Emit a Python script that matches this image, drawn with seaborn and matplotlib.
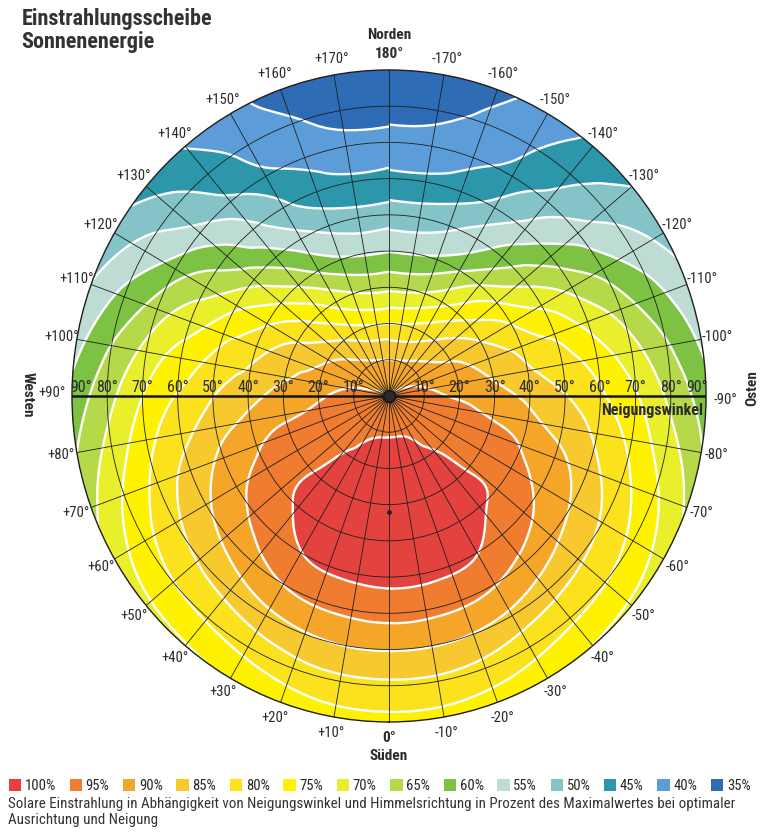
import numpy as np
import pandas as pd
import matplotlib
import matplotlib.pyplot as plt
import matplotlib.tri as mtri
from matplotlib.patches import Patch
import seaborn as sns

# tilt angle (Neigungswinkel) rings, 0 = horizontal, 90 = vertical
tilts = [0, 10, 20, 30, 40, 50, 60, 70, 80, 90]
# azimuth: 0 = south, + = west, - = east
azimuths = [-180, -150, -120, -90, -75, -60, -45, -30, -15, 0,
            15, 30, 45, 60, 75, 90, 120, 150, 180]

# irradiation in % of the optimum
north = [93, 87.5, 77.5, 66.5, 57.3, 50, 43.7, 39.4, 36, 33.5]
e150 = [93, 88.4, 80.4, 71.0, 62.2, 55.0, 49.0, 44.6, 41.8, 39.6]
e120 = [93, 90.9, 87.2, 82.6, 77.3, 71.7, 66.0, 60.6, 55.4, 51.0]
east = [93, 93.6, 92.0, 89.3, 86.1, 82.7, 78.4, 73.0, 66.3, 59.5]
e75 = [93, 94.1, 94.0, 93.1, 90.8, 87.4, 83.0, 77.8, 71.6, 64.8]
e60 = [93, 94.6, 95.2, 95.6, 94.5, 91.5, 87.1, 81.9, 76.2, 70.2]
e45 = [93, 95.7, 97.1, 97.8, 97.4, 94.7, 89.9, 84.1, 78.1, 72.0]
e30 = [93, 96.8, 98.3, 99.4, 99.0, 97.6, 92.8, 86.2, 79.6, 73.5]
e15 = [93, 97.1, 99.2, 100, 99.6, 98.4, 93.8, 87.6, 81.3, 75.7]
south = [93, 97.1, 99.3, 100, 99.6, 98.6, 94.0, 87.8, 81.5, 76.0]
w15 = [93, 97.0, 99.1, 99.9, 99.4, 98.2, 93.6, 87.4, 81.1, 75.4]
w30 = [93, 96.6, 98.1, 99.2, 98.8, 97.4, 92.6, 86.0, 79.3, 73.2]
w45 = [93, 95.5, 96.9, 97.6, 97.2, 94.4, 89.6, 83.8, 77.8, 71.7]
w60 = [93, 94.5, 95.0, 95.3, 94.2, 91.2, 86.8, 81.5, 75.8, 69.7]
w75 = [93, 94.0, 93.8, 92.8, 90.5, 87.1, 82.6, 77.4, 71.0, 64.3]
west = [93, 93.5, 91.8, 89.0, 85.8, 82.3, 77.8, 72.5, 65.8, 59.0]
w120 = [93, 90.8, 87.0, 82.3, 77.0, 71.3, 65.5, 60.0, 54.6, 49.5]
w150 = [93, 88.3, 80.2, 70.7, 61.8, 54.5, 48.5, 44.0, 41.0, 38.8]

columns = [north, e150, e120, east, e75, e60, e45, e30, e15, south,
           w15, w30, w45, w60, w75, west, w120, w150, north]
df = pd.DataFrame(np.array(columns).T, index=tilts, columns=azimuths)

band_labels = ['100%', '95%', '90%', '85%', '80%', '75%', '70%',
               '65%', '60%', '55%', '50%', '45%', '40%', '35%']
band_hex = ['#e4423f', '#ef7c2f', '#f5a628', '#f8c92e', '#fbe21c', '#fff200', '#e9ef2a',
            '#b6d94a', '#7dc243', '#bddcd4', '#84c3c8', '#2c97ab', '#5c9dd9', '#2e6cb6']
levels = [20, 37.5, 42.5, 47.5, 52.5, 57.5, 62.5, 67.5, 72.5, 77.5, 82.5, 87.5, 92.5, 97.5, 110]

sns.set_theme(style='white')
plt.rcParams['font.family'] = ['Roboto Condensed', 'DejaVu Sans']
palette = sns.color_palette(band_hex)
fill_colors = list(reversed(palette))  # low -> high

fig = plt.figure(figsize=(7.65, 8.33), dpi=100)
ax = fig.add_axes([0.0941, 0.1333, 0.8288, 0.7827], projection='polar')
ax.set_aspect('auto')
ax.set_theta_zero_location('S')
ax.set_theta_direction(-1)

# wrap one column on each side so the north meridian is smooth, then let
# matplotlib's cubic refiner smooth the read values
wrap = pd.concat([df[[150]].rename(columns={150: -210}), df, df[[-150]].rename(columns={-150: 210})], axis=1)
TH, RR = np.meshgrid(wrap.columns.values.astype(float), wrap.index.values.astype(float))
z = wrap.values.ravel()
triang = mtri.Triangulation(TH.ravel(), RR.ravel())
interp = mtri.CubicTriInterpolator(triang, z, kind='min_E')
tri_f, z_f = mtri.UniformTriRefiner(triang).refine_field(z, triinterpolator=interp, subdiv=4)
tri_p = mtri.Triangulation(np.deg2rad(tri_f.x), tri_f.y, tri_f.triangles)
outside = (np.abs(tri_f.x[tri_f.triangles]) > 180.001).any(axis=1)
tri_p.set_mask(outside)

ax.tricontourf(tri_p, z_f, levels=levels, colors=fill_colors, zorder=1)
ax.tricontour(tri_p, z_f, levels=levels[1:-1], colors='white', linewidths=1.7, zorder=2)

ax.set_ylim(0, 90)
ax.set_xticks(np.deg2rad(np.arange(0, 360, 10)))
ax.set_xticklabels([])
ax.set_yticks(range(10, 90, 10))
ax.set_yticklabels([])
ax.set_axisbelow(False)
ax.grid(True, color='#1e1e1e', linewidth=0.6)
ax.spines['polar'].set_color('#1e1e1e')
ax.spines['polar'].set_linewidth(1.0)

# tilt axis through the centre
for side in (np.pi / 2, -np.pi / 2):
    ax.plot([side, side], [0, 90], color='#151515', linewidth=1.8, zorder=4)
ax.plot(0, 0, 'o', ms=8.5, color='#2a2a2a', mec='#111', zorder=5)
ax.plot(0, 32, 'o', ms=2.5, color='#222', zorder=5)

txt = '#2b2b2b'
for t in tilts[1:]:
    pos = 87.5 if t == 90 else t
    for side in (np.pi / 2, -np.pi / 2):
        ax.annotate(f'{t}°', xy=(side, pos), xytext=(0, 1), textcoords='offset points',
                    ha='center', va='bottom', fontsize=11.5, color=txt, zorder=6)

for a in range(10, 180, 10):
    if a == 90:
        continue
    ax.text(np.deg2rad(a), 94.5, f'+{a}°', ha='center', va='center', fontsize=10.5, color=txt)
    ax.text(np.deg2rad(-a), 94.5, f'-{a}°', ha='center', va='center', fontsize=10.5, color=txt)
ax.text(0, 94.4, '0°', ha='center', va='center', fontsize=11, weight='bold', color=txt)
ax.text(np.pi, 94.4, '180°', ha='center', va='center', fontsize=11, weight='bold', color=txt)

fig.text(52 / 765, 1 - 393 / 833, '+90°', ha='center', va='center', fontsize=10.5, color=txt)
fig.text(725 / 765, 1 - 400 / 833, '-90°', ha='center', va='center', fontsize=10.5, color=txt)
fig.text(389 / 765, 1 - 35 / 833, 'Norden', ha='center', va='center', fontsize=11, weight='bold', color=txt)
fig.text(389 / 765, 1 - 756 / 833, 'Süden', ha='center', va='center', fontsize=11, weight='bold', color=txt)
fig.text(28 / 765, 1 - 395 / 833, 'Westen', ha='center', va='center', rotation=-90,
         fontsize=11, weight='bold', color=txt)
fig.text(752 / 765, 1 - 388 / 833, 'Osten', ha='center', va='center', rotation=90,
         fontsize=11, weight='bold', color=txt)
fig.text(703 / 765, 1 - 411 / 833, 'Neigungswinkel', ha='right', va='center', fontsize=11.5,
         weight='bold', color=txt)

fig.text(0.028, 0.99, 'Einstrahlungsscheibe\nSonnenenergie', ha='left', va='top', fontsize=16,
         weight='bold', color='#333333', linespacing=1.05)

handles = [Patch(facecolor=c, edgecolor='none', label=l) for c, l in zip(palette, band_labels)]
fig.legend(handles=handles, loc='center left', bbox_to_anchor=(0.0, 1 - 786 / 833), ncol=14,
           frameon=False, fontsize=10.5, handlelength=0.85, handleheight=0.85,
           handletextpad=0.25, columnspacing=0.93, borderaxespad=0.2)

fig.text(0.011, 1 - 797 / 833,
         'Solare Einstrahlung in Abhängigkeit von Neigungswinkel und Himmelsrichtung in Prozent des '
         'Maximalwertes bei optimaler\nAusrichtung und Neigung',
         ha='left', va='top', fontsize=10.8, color='#333333', linespacing=1.2)

fig.savefig('out.png', dpi=100)
